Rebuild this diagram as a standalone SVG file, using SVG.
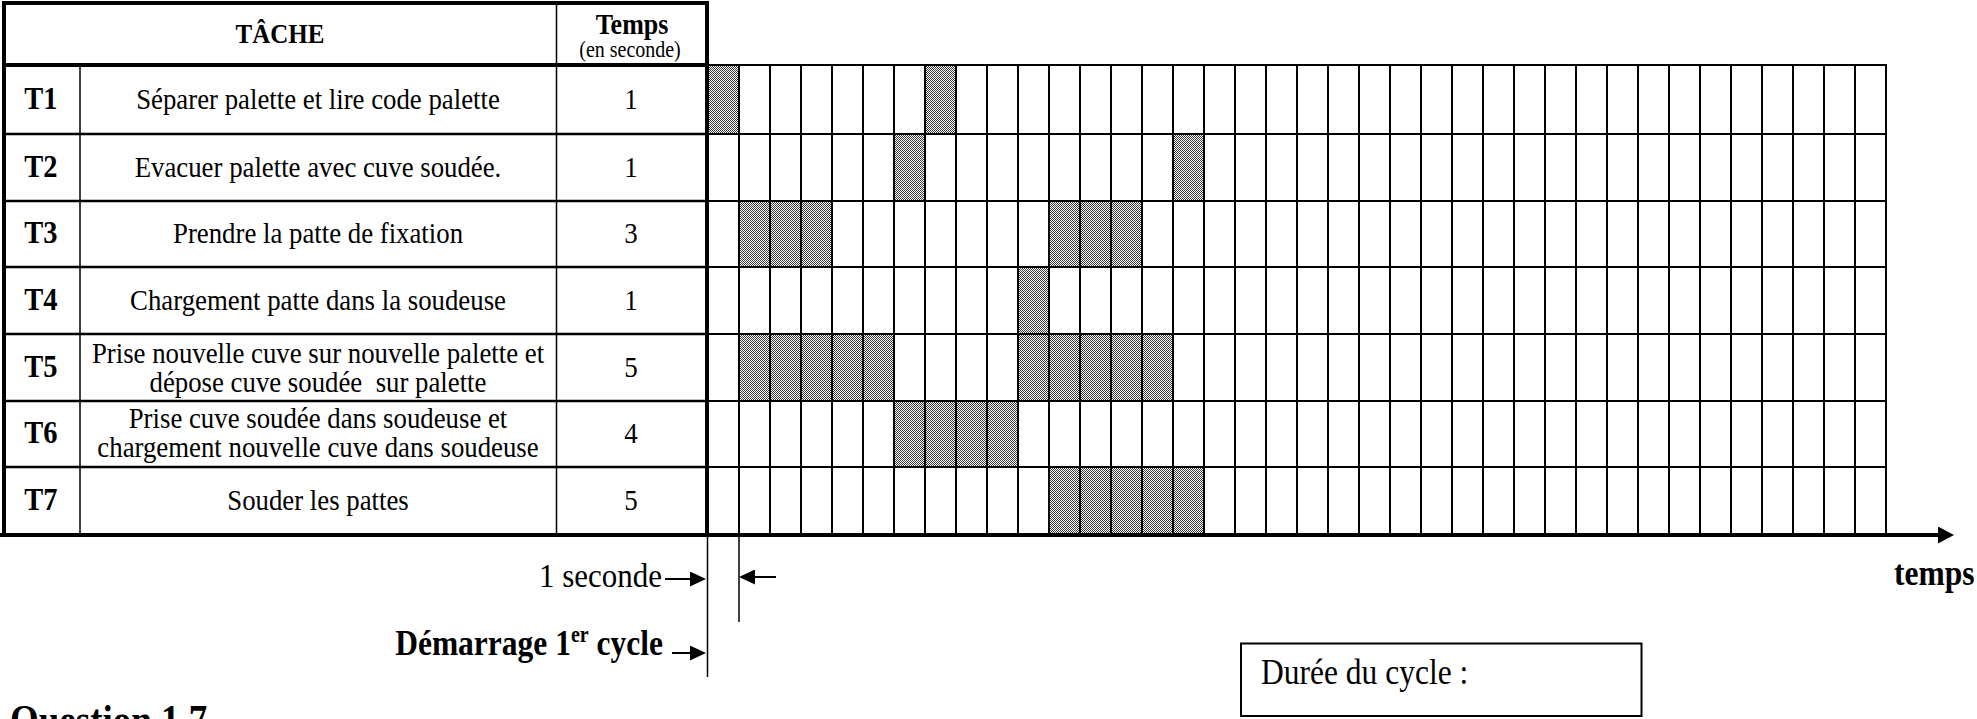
<svg xmlns="http://www.w3.org/2000/svg" width="1977" height="719" viewBox="0 0 1977 719">
<style>
  text { font-family: "Liberation Serif", "Times New Roman", serif; fill: #000; }
  .hdr { font-weight: bold; font-size: 25px; text-anchor: middle; }
  .tid { font-weight: bold; font-size: 28.5px; text-anchor: middle; }
  .task { font-size: 26.8px; text-anchor: middle; }
  .num { font-size: 27px; text-anchor: middle; }
  .lbl { font-size: 31px; }
  .lblb { font-size: 31.5px; font-weight: bold; }
  .thick { stroke: #000; stroke-width: 4; fill: none; }
  .rowline { stroke: #000; stroke-width: 2.6; fill: none; }
  .thin { stroke: #000; stroke-width: 1.5; fill: none; }
  .grid { stroke: #000; stroke-width: 2; fill: none; }
  .cell { fill: url(#dots); }
  .arrow { stroke: #000; stroke-width: 2; fill: none; }
</style>
<defs>
  <pattern id="dots" width="2" height="2" patternUnits="userSpaceOnUse">
    <rect width="2" height="2" fill="#ffffff"/>
    <rect width="1" height="1" fill="#3a3a3a"/>
    <rect x="1" y="1" width="1" height="1" fill="#3a3a3a"/>
  </pattern>
  <marker id="ah" markerUnits="userSpaceOnUse" markerWidth="16" markerHeight="15" refX="0" refY="7.5" orient="auto">
    <path d="M0,0 L16,7.5 L0,15 z" fill="#000"/>
  </marker>
  <marker id="ahBig" markerUnits="userSpaceOnUse" markerWidth="16" markerHeight="17" refX="0" refY="8.5" orient="auto">
    <path d="M0,0 L16,8.5 L0,17 z" fill="#000"/>
  </marker>
</defs>
<rect width="1977" height="719" fill="#ffffff"/>

<!-- shaded cells (time slots) -->
<g id="chart-bars">
  <rect class="cell" x="708" y="65" width="31" height="69"/>
  <rect class="cell" x="925" y="65" width="31" height="69"/>
  <rect class="cell" x="894" y="134" width="31" height="67"/>
  <rect class="cell" x="1173" y="134" width="31" height="67"/>
  <rect class="cell" x="739" y="201" width="93" height="66"/>
  <rect class="cell" x="1049" y="201" width="93" height="66"/>
  <rect class="cell" x="1018" y="267" width="31" height="67"/>
  <rect class="cell" x="739" y="334" width="155" height="67"/>
  <rect class="cell" x="1018" y="334" width="155" height="67"/>
  <rect class="cell" x="894" y="401" width="124" height="66"/>
  <rect class="cell" x="1049" y="467" width="155" height="68"/>
</g>

<!-- time grid -->
<g id="time-grid">
  <path class="grid" d="M739,65V535 M770,65V535 M801,65V535 M832,65V535 M863,65V535 M894,65V535 M925,65V535 M956,65V535 M987,65V535 M1018,65V535 M1049,65V535 M1080,65V535 M1111,65V535 M1142,65V535 M1173,65V535 M1204,65V535 M1235,65V535 M1266,65V535 M1297,65V535 M1328,65V535 M1359,65V535 M1390,65V535 M1421,65V535 M1452,65V535 M1483,65V535 M1514,65V535 M1545,65V535 M1576,65V535 M1607,65V535 M1638,65V535 M1669,65V535 M1700,65V535 M1731,65V535 M1762,65V535 M1793,65V535 M1824,65V535 M1855,65V535 M1886,65V535"/>
  <path class="grid" d="M707,65H1887 M707,134H1887 M707,201H1887 M707,267H1887 M707,334H1887 M707,401H1887 M707,467H1887"/>
</g>

<!-- task table -->
<g id="table">
  <path class="thin" d="M80,65V535 M556.5,3V535"/>
  <path class="rowline" d="M4,134H707 M4,201H707 M4,267H707 M4,334H707 M4,401H707 M4,467H707"/>
  <path class="thick" d="M4,65H707"/>
  <path class="thick" d="M2,3H709 M4,1V537 M707,1V537"/>
</g>

<g id="header">
  <text class="hdr" transform="translate(280,43) scale(1,1.12)">TÂCHE</text>
  <text class="hdr" transform="translate(632,34) scale(1,1.12)" style="font-size:26px">Temps</text>
  <text transform="translate(630,57) scale(1,1.12)" style="font-size:20px;text-anchor:middle">(en seconde)</text>
</g>

<g id="row-T1">
  <text class="tid" transform="translate(41,109) scale(1,1.12)">T1</text>
  <text class="task" transform="translate(318,109) scale(1,1.12)">Séparer palette et lire code palette</text>
  <text class="num" transform="translate(631,109) scale(1,1.12)">1</text>
</g>
<g id="row-T2">
  <text class="tid" transform="translate(41,177) scale(1,1.12)">T2</text>
  <text class="task" transform="translate(318,177) scale(1,1.12)">Evacuer palette avec cuve soudée.</text>
  <text class="num" transform="translate(631,177) scale(1,1.12)">1</text>
</g>
<g id="row-T3">
  <text class="tid" transform="translate(41,243) scale(1,1.12)">T3</text>
  <text class="task" transform="translate(318,243) scale(1,1.12)">Prendre la patte de fixation</text>
  <text class="num" transform="translate(631,243) scale(1,1.12)">3</text>
</g>
<g id="row-T4">
  <text class="tid" transform="translate(41,310) scale(1,1.12)">T4</text>
  <text class="task" transform="translate(318,310) scale(1,1.12)">Chargement patte dans la soudeuse</text>
  <text class="num" transform="translate(631,310) scale(1,1.12)">1</text>
</g>
<g id="row-T5">
  <text class="tid" transform="translate(41,377) scale(1,1.12)">T5</text>
  <text class="task" transform="translate(318,363) scale(1,1.12)">Prise nouvelle cuve sur nouvelle palette et</text>
  <text class="task" transform="translate(318,392) scale(1,1.12)" xml:space="preserve">dépose cuve soudée  sur palette</text>
  <text class="num" transform="translate(631,377) scale(1,1.12)">5</text>
</g>
<g id="row-T6">
  <text class="tid" transform="translate(41,443) scale(1,1.12)">T6</text>
  <text class="task" transform="translate(318,428) scale(1,1.12)">Prise cuve soudée dans soudeuse et</text>
  <text class="task" transform="translate(318,457) scale(1,1.12)">chargement nouvelle cuve dans soudeuse</text>
  <text class="num" transform="translate(631,443) scale(1,1.12)">4</text>
</g>
<g id="row-T7">
  <text class="tid" transform="translate(41,510) scale(1,1.12)">T7</text>
  <text class="task" transform="translate(318,510) scale(1,1.12)">Souder les pattes</text>
  <text class="num" transform="translate(631,510) scale(1,1.12)">5</text>
</g>

<!-- connectors / arrows -->
<g id="connectors">
  <line class="thick" x1="0" y1="535" x2="1938" y2="535" marker-end="url(#ahBig)"/>
  <line class="thin" x1="707.5" y1="535" x2="707.5" y2="677"/>
  <line class="thin" x1="739" y1="535" x2="739" y2="622"/>
  <line class="arrow" x1="665" y1="579" x2="690" y2="579" marker-end="url(#ah)"/>
  <line class="arrow" x1="776" y1="577" x2="755" y2="577" marker-end="url(#ah)"/>
  <line class="arrow" x1="672" y1="653" x2="690" y2="653" marker-end="url(#ah)"/>
</g>

<g id="labels">
  <text class="lbl" transform="translate(662,587) scale(1,1.12)" text-anchor="end">1 seconde</text>
  <text class="lblb" transform="translate(663,655) scale(1,1.12)" text-anchor="end">Démarrage 1<tspan font-size="20" dy="-12">er</tspan><tspan dy="12"> cycle</tspan></text>
  <text class="lblb" transform="translate(1894,585) scale(1,1.12)">temps</text>
  <text class="lblb" transform="translate(10,734) scale(1,1.12)" style="font-size:37px">Question 1.7</text>
</g>

<g id="cycle-box">
  <rect x="1241" y="643.5" width="400.5" height="72.5" fill="none" stroke="#000" stroke-width="2"/>
  <text class="lbl" transform="translate(1261,684) scale(1,1.12)" style="font-size:31.5px">Durée du cycle :</text>
</g>
</svg>
